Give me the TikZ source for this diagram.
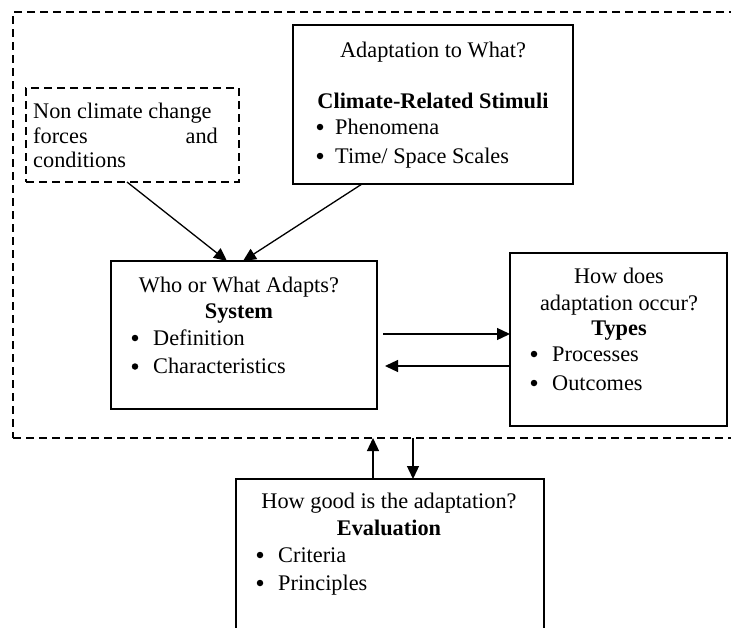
\documentclass[tikz,border=0pt]{standalone}
\usepackage{fontspec}
\setmainfont{Liberation Serif}
\usetikzlibrary{arrows.meta,calc}
\tikzset{
  box/.style={draw, line width=1.5pt, inner sep=0pt, outer sep=0pt},
  dbox/.style={draw, line width=1.2pt, dash pattern=on 8pt off 5pt, inner sep=0pt, outer sep=0pt},
  arr/.style={line width=1.3pt, -{Triangle[length=13pt,width=12pt]}},
  txt/.style={anchor=base, inner sep=0pt, font=\fontsize{22.3}{27}\selectfont},
  ltxt/.style={txt, anchor=base west},
  btxt/.style={txt, font=\fontsize{22.3}{27}\selectfont\bfseries},
  bul/.style={circle, fill, inner sep=0pt, minimum size=6.5pt},
}
\begin{document}
\begin{tikzpicture}[x=1pt, y=-1pt]
\useasboundingbox (0,0) rectangle (731,627);
\clip (0,0) rectangle (731,627);
% outer dashed frame (right side beyond picture)
\node[dbox, minimum width=747pt, minimum height=426pt] (outer) at (386.5,225) {};
% boxes
\node[dbox, minimum width=213pt, minimum height=94pt] (nc) at (132.5,135) {};
\node[box, fill=white, minimum width=280pt, minimum height=159pt] (clim) at (433,104.5) {};
\node[box, fill=white, minimum width=266pt, minimum height=148pt] (sys) at (244,335) {};
\node[box, fill=white, minimum width=217pt, minimum height=173pt] (typ) at (618.5,339.5) {};
\node[box, fill=white, minimum width=308pt, minimum height=181pt] (eval) at (390,569.5) {};
% non climate text
\node[ltxt] (nc1) at (33,118) {Non climate change};
\node[ltxt] (nc2) at (33,143) {forces};
\node[txt, anchor=base east] (nc3) at (218,143) {and};
\node[ltxt] (nc4) at (33,167) {conditions};
% climate box text
\node[txt] (c1) at (433,57) {Adaptation to What?};
\node[btxt] (c2) at (433,108) {Climate-Related Stimuli};
\node[bul] (c3b) at (320,127) {};
\node[ltxt] (c3) at (335,134) {Phenomena};
\node[bul] (c4b) at (320,156) {};
\node[ltxt] (c4) at (335,163) {Time/ Space Scales};
% system box text
\node[txt] (s1) at (239,292) {Who or What Adapts?};
\node[btxt] (s2) at (239,318) {System};
\node[bul] (s3b) at (135,338) {};
\node[ltxt] (s3) at (153,345) {Definition};
\node[bul] (s4b) at (135,366.5) {};
\node[ltxt] (s4) at (153,373) {Characteristics};
% types box text
\node[txt] (t1) at (619,283) {How does};
\node[txt] (t2) at (619,310) {adaptation occur?};
\node[btxt] (t3) at (619,335) {Types};
\node[bul] (t4b) at (534,354) {};
\node[ltxt] (t4) at (552,361) {Processes};
\node[bul] (t5b) at (534,383) {};
\node[ltxt] (t5) at (552,390) {Outcomes};
% evaluation box text
\node[txt] (e1) at (389,508) {How good is the adaptation?};
\node[btxt] (e2) at (389,535) {Evaluation};
\node[bul] (e3b) at (260,555) {};
\node[ltxt] (e3) at (278,562) {Criteria};
\node[bul] (e4b) at (260,583) {};
\node[ltxt] (e4) at (278,590) {Principles};
% connectors
\draw[arr] ($(nc.south west)+(101,0)$) -- ($(sys.north west)+(116,0)$);
\draw[arr] ($(clim.south west)+(69,0)$) -- ($(sys.north west)+(132,0)$);
\coordinate (r1) at ($(sys.east)+(6,-1)$);
\draw[arr] (r1) -- (r1 -| typ.west);
\coordinate (l1) at ($(sys.east)+(8,31)$);
\draw[arr] (l1 -| typ.west) -- (l1);
\coordinate (u1) at ($(eval.north west)+(137,0)$);
\draw[arr] (u1) -- (u1 |- outer.south);
\coordinate (d1) at ($(eval.north west)+(177,0)$);
\draw[arr] (d1 |- outer.south) -- (d1);
\end{tikzpicture}
\end{document}
